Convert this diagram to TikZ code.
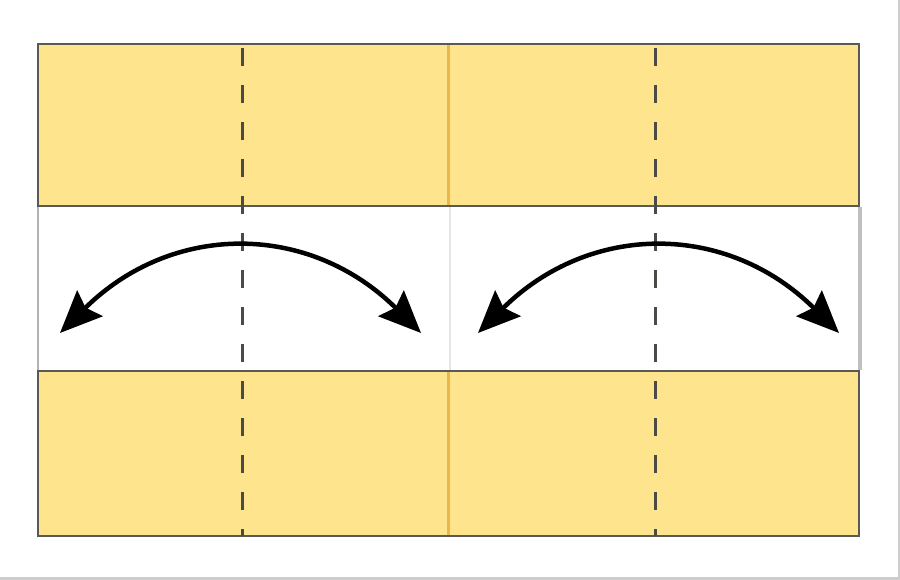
\documentclass[tikz,border=0pt]{standalone}
\usetikzlibrary{arrows.meta}
\definecolor{paper}{RGB}{253,228,141}
\definecolor{edge}{RGB}{90,90,85}
\definecolor{crease}{RGB}{75,75,70}
\definecolor{midline}{RGB}{238,182,70}
\definecolor{frame}{RGB}{205,205,205}
\tikzset{
  strip/.style={fill=paper,draw=edge,line width=2.6pt},
  valley/.style={draw=crease,line width=3pt,dash pattern=on 18pt off 19pt,dash phase=-3pt},
  foldarrow/.style={line width=4.5pt,{Stealth[length=42pt,width=36pt,inset=6pt]}-{Stealth[length=42pt,width=36pt,inset=6pt]}}
}
\begin{document}
\begin{tikzpicture}[x=1pt,y=-1pt]
\useasboundingbox (0,0) rectangle (900,580);
\fill[white] (0,0) rectangle (900,580);
% frame
\fill[frame] (897.5,0) rectangle (900,580);
\fill[frame] (0,577) rectangle (900,580);
% middle band borders
\draw[draw=gray!60,line width=2pt] (38,207) -- (38,370);
\draw[draw=gray!50,line width=4pt] (860,207) -- (860,370);
\draw[draw=gray!20,line width=1.5pt] (450,207) -- (450,370);
% strips
\draw[strip] (38,44) rectangle (859,206);
\draw[strip] (38,371) rectangle (859,536);
% orange centre lines
\draw[midline,line width=3pt] (448,45) -- (448,205);
\draw[midline,line width=3pt] (448,372) -- (448,535);
% crease lines
\coordinate (c1t) at (242,45);
\coordinate (c1b) at (242,536);
\coordinate (c2t) at (655,45);
\coordinate (c2b) at (655,536);
\draw[valley] (c1t) -- (c1b);
\draw[valley] (c2t) -- (c2b);
% arrows
\coordinate (a1l) at (60,333);
\coordinate (a1r) at (421,333);
\coordinate (a2l) at (478,333);
\coordinate (a2r) at (839,333);
\draw[foldarrow] (a1l) .. controls (172,222) and (309,222) .. (a1r);
\draw[foldarrow] (a2l) .. controls (590,222) and (727,222) .. (a2r);
\end{tikzpicture}
\end{document}
